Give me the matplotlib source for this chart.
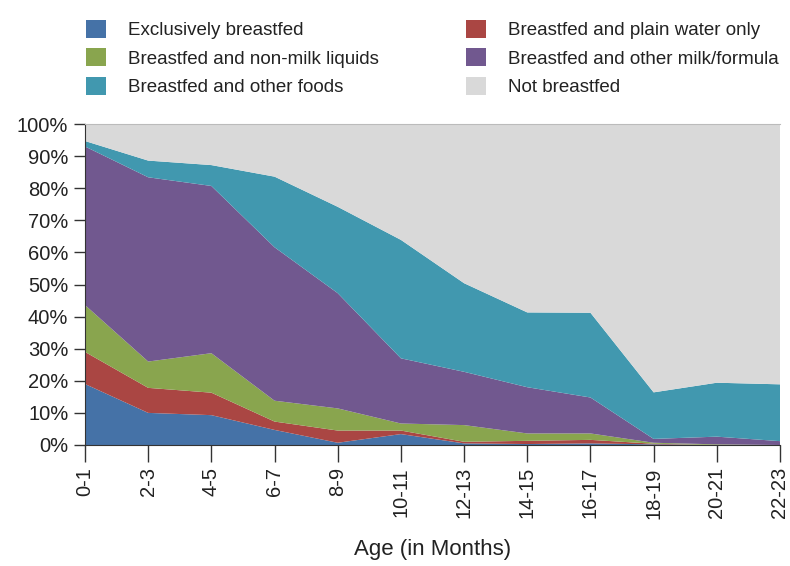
import matplotlib
matplotlib.use("Agg")
import matplotlib.pyplot as plt
import numpy as np

plt.rcParams['font.family'] = ['Liberation Sans', 'DejaVu Sans']

ages = ["0-1", "2-3", "4-5", "6-7", "8-9", "10-11", "12-13", "14-15", "16-17", "18-19", "20-21", "22-23"]
exclusive = [19.0, 10.0, 9.3, 4.7, 0.7, 3.4, 0.5, 0.3, 0.5, 0.2, 0.0, 0.0]
plain_water = [10.0, 7.8, 7.0, 2.6, 3.8, 1.1, 0.5, 1.0, 1.1, 0.2, 0.0, 0.0]
non_milk = [14.6, 8.2, 12.3, 6.5, 6.9, 2.2, 5.2, 2.3, 2.0, 0.3, 0.2, 0.0]
other_milk = [49.4, 57.4, 52.1, 47.8, 35.9, 20.3, 16.6, 14.4, 11.2, 1.2, 2.4, 1.2]
other_foods = [1.7, 5.2, 6.5, 22.0, 26.9, 36.9, 27.6, 23.3, 26.4, 14.5, 16.8, 17.7]
not_bf = list(100 - np.sum([exclusive, plain_water, non_milk, other_milk, other_foods], axis=0))

labels = ["Exclusively breastfed", "Breastfed and plain water only", "Breastfed and non-milk liquids",
          "Breastfed and other milk/formula", "Breastfed and other foods", "Not breastfed"]
colors = ["#4572A7", "#AA4643", "#89A54E", "#71588F", "#4198AF", "#D9D9D9"]

fig = plt.figure(figsize=(7.9, 5.66), dpi=100)
ax = fig.add_axes([85/790, 1-445/566, 695/790, 321/566])

x = np.arange(len(ages))
polys = ax.stackplot(x, exclusive, plain_water, non_milk, other_milk, other_foods, not_bf,
                     colors=colors, labels=labels, linewidth=0)

ax.set_xlim(0, len(ages)-1)
ax.set_ylim(0, 100)
ax.set_yticks(np.arange(0, 101, 10))
ax.set_yticklabels([f"{v}%" for v in range(0, 101, 10)], fontsize=14.5, color="#222222")
ax.set_xticks(x)
ax.set_xticklabels(ages, rotation=90, fontsize=14.5, color="#222222")
ax.tick_params(axis='y', length=8, width=1, color="#333333", pad=4)
ax.tick_params(axis='x', length=12, width=1, color="#333333", pad=4)
ax.spines['right'].set_visible(False)
ax.spines['top'].set_color("#BBBBBB")
ax.spines['left'].set_color("#333333")
ax.spines['bottom'].set_color("#333333")
ax.set_xlabel("Age (in Months)", fontsize=16, color="#222222", labelpad=15)

order = [0, 2, 4, 1, 3, 5]
fig.legend([polys[i] for i in order], [labels[i] for i in order], ncol=2,
           loc='upper left', bbox_to_anchor=(69/790, 1-3/566), frameon=False,
           fontsize=13.5, handlelength=1.07, handleheight=1.07, handletextpad=1.17,
           columnspacing=4.64, labelspacing=0.5, labelcolor="#222222")

fig.savefig("out.png", dpi=100)
